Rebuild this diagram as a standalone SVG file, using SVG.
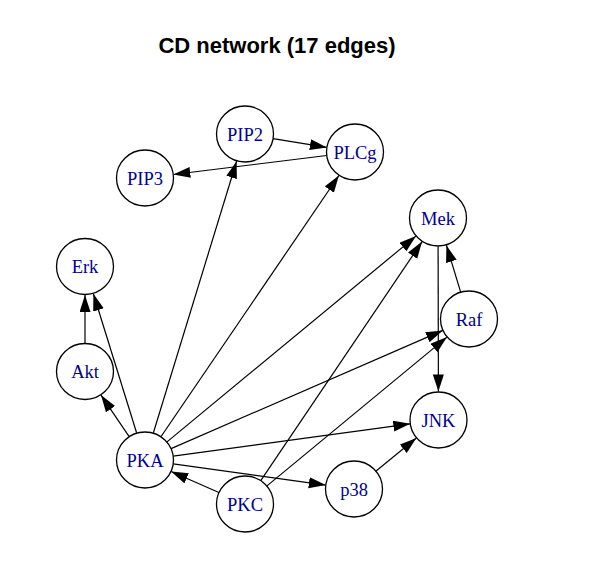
<svg xmlns="http://www.w3.org/2000/svg" width="598" height="575" viewBox="0 0 598 575">
<style>
.node ellipse{fill:#fff;stroke:#000;stroke-width:1.3}
.node text{font-family:"Liberation Serif","Times New Roman",serif;font-size:18.5px;fill:#00008B;text-anchor:middle}
.edges line{stroke:#000;stroke-width:1.2;marker-end:url(#arr)}
.title{font-family:"Liberation Sans",Arial,sans-serif;font-size:22px;font-weight:bold;text-anchor:middle}
</style>
<defs>
<marker id="arr" markerUnits="userSpaceOnUse" markerWidth="18" markerHeight="12" refX="17" refY="5.5" orient="auto">
<path d="M0,0 L17,5.5 L0,11 z" fill="#000"/>
</marker>
</defs>
<rect width="598" height="575" fill="#fff"/>
<text class="title" x="277" y="53">CD network (17 edges)</text>
<g class="edges">
<line x1="273.1" y1="138.6" x2="326.9" y2="147.4"/>
<line x1="326.7" y1="155.5" x2="173.3" y2="174.5"/>
<line x1="153.4" y1="432.8" x2="236.6" y2="161.2"/>
<line x1="161.1" y1="436.5" x2="338.9" y2="175.5"/>
<line x1="167.0" y1="441.9" x2="416.0" y2="236.1"/>
<line x1="171.1" y1="448.6" x2="442.9" y2="330.4"/>
<line x1="173.2" y1="456.2" x2="410.3" y2="423.8"/>
<line x1="173.2" y1="463.9" x2="325.8" y2="485.1"/>
<line x1="129.0" y1="436.4" x2="101.0" y2="395.1"/>
<line x1="136.6" y1="432.8" x2="93.4" y2="293.7"/>
<line x1="85" y1="343" x2="85" y2="295"/>
<line x1="218.9" y1="492.5" x2="171.1" y2="471.5"/>
<line x1="260.9" y1="480.4" x2="422.1" y2="241.6"/>
<line x1="267.0" y1="485.9" x2="447.0" y2="337.1"/>
<line x1="460.6" y1="291.8" x2="446.4" y2="245.2"/>
<line x1="438.1" y1="246.5" x2="438.4" y2="391.5"/>
<line x1="376.1" y1="471.0" x2="416.4" y2="438.0"/>
</g>
<g id="PIP2" class="node"><ellipse cx="245" cy="134" rx="28.5" ry="28"/><text x="245" y="140.5">PIP2</text></g>
<g id="PLCg" class="node"><ellipse cx="355" cy="152" rx="28.5" ry="28"/><text x="355" y="158.5">PLCg</text></g>
<g id="PIP3" class="node"><ellipse cx="145" cy="178" rx="28.5" ry="28"/><text x="145" y="184.5">PIP3</text></g>
<g id="Mek" class="node"><ellipse cx="438" cy="218" rx="28.5" ry="28"/><text x="438" y="224.5">Mek</text></g>
<g id="Erk" class="node"><ellipse cx="85" cy="266.5" rx="28.5" ry="28"/><text x="85" y="273">Erk</text></g>
<g id="Raf" class="node"><ellipse cx="469" cy="319" rx="28.5" ry="28"/><text x="469" y="325.5">Raf</text></g>
<g id="Akt" class="node"><ellipse cx="85" cy="371.5" rx="28.5" ry="28"/><text x="85" y="378">Akt</text></g>
<g id="JNK" class="node"><ellipse cx="438.5" cy="420" rx="28.5" ry="28"/><text x="438.5" y="426.5">JNK</text></g>
<g id="PKA" class="node"><ellipse cx="145" cy="460" rx="28.5" ry="28"/><text x="145" y="466.5">PKA</text></g>
<g id="p38" class="node"><ellipse cx="354" cy="489" rx="28.5" ry="28"/><text x="354" y="495.5">p38</text></g>
<g id="PKC" class="node"><ellipse cx="245" cy="504" rx="28.5" ry="28"/><text x="245" y="510.5">PKC</text></g>
</svg>
